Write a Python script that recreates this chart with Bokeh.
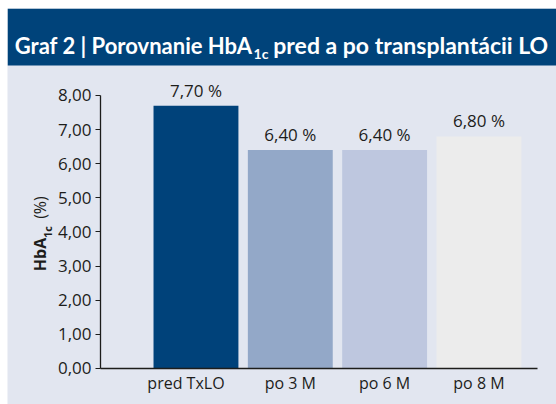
from bokeh.plotting import figure
from bokeh.models import (Range1d, FixedTicker, Label, LabelSet, ColumnDataSource,
                          BoxAnnotation, LinearAxis, CustomJSTickFormatter)
from bokeh.core.properties import value
from bokeh.embed import file_html
from bokeh.resources import INLINE

# ---- data ----
categories = ["pred TxLO", "po 3 M", "po 6 M", "po 8 M"]
values = [7.70, 6.40, 6.40, 6.80]
bar_colors = ["#00427a", "#93a8c8", "#bec7df", "#ececec"]
y_ticks = [0, 1, 2, 3, 4, 5, 6, 7, 8]
title_head = "Graf 2 | Porovnanie HbA"
title_sub = "1c"
title_tail = "pred a po transplantácii LO"
ylabel_main = "HbA"
ylabel_sub = "1c"
ylabel_unit = "(%)"

NAVY = "#00437a"
BG = "#e2e6f0"
TXT = "#1d1d1b"
FONT = "Open Sans"
TFONT = "Lato"

def fmt(v):
    return f"{v:.2f}".replace(".", ",")

positions = list(range(len(categories)))
src = ColumnDataSource(dict(
    x=positions,
    top=values,
    color=bar_colors,
    label=[fmt(v) + " %" for v in values],
))

# frame covers the whole figure; axes are pinned inside it
X_LEFT, X_RIGHT = -1.998, 3.822
Y_BOTTOM, Y_TOP = -1.055, 10.549
AX_X = -1.012          # x where the y axis sits
AX_XEND = 3.62         # end of the x axis line
FIRST_SHIFT = -0.106   # first category label sits a little left of its bar

p = figure(width=549, height=396, x_range=Range1d(X_LEFT, X_RIGHT), y_range=Range1d(Y_BOTTOM, Y_TOP),
           output_backend="svg", toolbar_location=None,
           min_border_left=0, min_border_right=0, min_border_top=0, min_border_bottom=0,
           background_fill_color=BG, border_fill_color=BG, outline_line_color=None,
           margin=(8, 0, 0, 7))
p.grid.visible = False

# title band
p.add_layout(BoxAnnotation(bottom=8.879, fill_color=NAVY, fill_alpha=1.0, line_color=None))
p.add_layout(Label(x=0.599, y=9.465, text=title_head, text_align="right", text_baseline="alphabetic",
                   text_color="white", text_font=TFONT, text_font_style="bold", text_font_size="22px"))
p.add_layout(Label(x=0.610, y=9.23, text=title_sub, text_align="left", text_baseline="alphabetic",
                   text_color="white", text_font=TFONT, text_font_style="bold", text_font_size="14px"))
p.add_layout(Label(x=0.8197, y=9.465, text=title_tail, text_align="left", text_baseline="alphabetic",
                   text_color="white", text_font=TFONT, text_font_style="bold", text_font_size="23px"))

# bars
p.vbar(x="x", top="top", width=0.9, fill_color="color", line_color=None, source=src)

def style_x(ax):
    ax.major_tick_out = 0
    ax.major_tick_in = 0
    ax.minor_tick_out = 0
    ax.minor_tick_in = 0
    ax.major_label_standoff = 4
    ax.major_label_text_font = FONT
    ax.major_label_text_font_size = "16px"
    ax.major_label_text_color = TXT

# x axis
xa = p.xaxis[0]
xa.fixed_location = 0
xa.bounds = (AX_X, AX_XEND)
xa.ticker = FixedTicker(ticks=positions[1:])
xa.major_label_overrides = {i: categories[i] for i in positions[1:]}
style_x(xa)
xa.axis_line_color = TXT
xa.axis_line_width = 1.3

# first category label (slightly offset in the original)
xa0 = LinearAxis(fixed_location=0, bounds=(AX_X, AX_XEND),
                 ticker=FixedTicker(ticks=[positions[0] + FIRST_SHIFT]),
                 formatter=CustomJSTickFormatter(args=dict(name=categories[0]), code="return name"),
                 axis_line_color=None)
style_x(xa0)
p.add_layout(xa0, "below")

# y axis
ya = p.yaxis[0]
ya.fixed_location = AX_X
ya.bounds = (0, 8)
ya.ticker = FixedTicker(ticks=y_ticks)
ya.major_label_overrides = {v: fmt(v) for v in y_ticks}
ya.major_tick_out = 5
ya.major_tick_in = 0
ya.minor_tick_out = 0
ya.minor_tick_in = 0
ya.major_tick_line_color = TXT
ya.major_label_standoff = 4
ya.major_label_text_font = FONT
ya.major_label_text_font_size = "17px"
ya.major_label_text_color = TXT
ya.axis_line_color = TXT
ya.axis_line_width = 1.3

# value labels
p.add_layout(LabelSet(x="x", y="top", text="label", source=src, y_offset=9,
                      text_align="center", text_baseline="alphabetic",
                      text_font=value(FONT), text_font_size=value("17px"), text_color=value(TXT)))

# y-axis title in three parts, each drawn as the label of a bare pinned axis
def title_axis(text, center, standoff, size, style):
    ax = LinearAxis(ticker=FixedTicker(ticks=[]), fixed_location=AX_X,
                    bounds=(center - 0.2, center + 0.2),
                    axis_line_color=None, major_tick_line_color=None, minor_tick_line_color=None,
                    axis_label=text, axis_label_standoff=standoff,
                    axis_label_text_font=FONT, axis_label_text_font_style=style,
                    axis_label_text_font_size=size, axis_label_text_color=TXT)
    p.add_layout(ax, "left")

title_axis(ylabel_main, 3.341, 50, "16px", "bold")
title_axis(ylabel_sub, 4.0, 46, "11px", "bold")
title_axis(ylabel_unit, 4.727, 50, "16px", "normal")

open("out.html", "w").write(file_html(p, INLINE))
